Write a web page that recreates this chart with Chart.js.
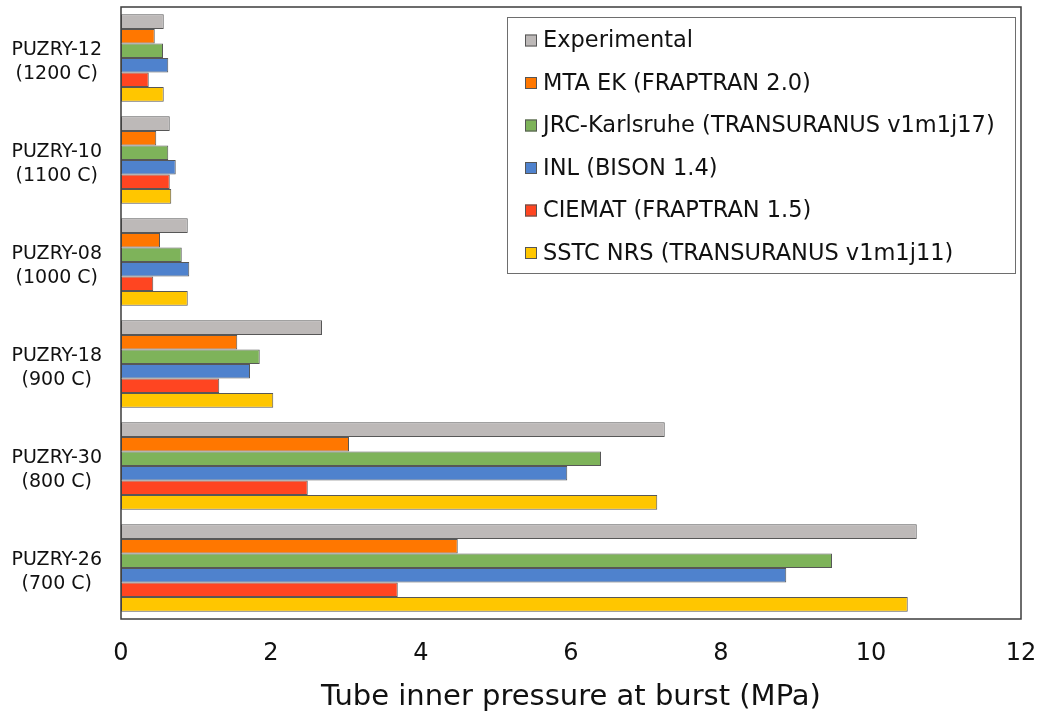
<!DOCTYPE html>
<html>
<head>
<meta charset="utf-8">
<script src="https://cdn.jsdelivr.net/npm/chart.js@4/dist/chart.umd.min.js"></script>
<style>
  html, body { margin: 0; padding: 0; background: #fff; }
  #wrap { width: 1040px; height: 715px; }
</style>
</head>
<body>
<div id="wrap"><canvas id="burstChart"></canvas></div>
<script>
// test cases, top to bottom
const rodLabels = [
    ['PUZRY-12', '(1200 C)'],
    ['PUZRY-10', '(1100 C)'],
    ['PUZRY-08', '(1000 C)'],
    ['PUZRY-18', '(900 C)'],
    ['PUZRY-30', '(800 C)'],
    ['PUZRY-26', '(700 C)']
];

// burst pressure, MPa
const experimental = [0.57, 0.65, 0.89, 2.68, 7.25, 10.61];
const mtaEk        = [0.45, 0.47, 0.52, 1.55, 3.04, 4.49];
const jrcKarlsruhe = [0.56, 0.63, 0.81, 1.85, 6.40, 9.48];
const inlBison     = [0.63, 0.73, 0.91, 1.72, 5.95, 8.87];
const ciemat       = [0.37, 0.65, 0.43, 1.31, 2.49, 3.69];
const sstcNrs      = [0.57, 0.67, 0.89, 2.03, 7.15, 10.49];

const xTicks = [0, 2, 4, 6, 8, 10, 12];

const seriesNames = [
    'Experimental',
    'MTA EK (FRAPTRAN 2.0)',
    'JRC-Karlsruhe (TRANSURANUS v1m1j17)',
    'INL (BISON 1.4)',
    'CIEMAT (FRAPTRAN 1.5)',
    'SSTC NRS (TRANSURANUS v1m1j11)'
];
const seriesColors = ['#bdb9b8', '#ff7700', '#7eb35a', '#4f82cd', '#ff4521', '#ffc600'];
const seriesValues = [experimental, mtaEk, jrcKarlsruhe, inlBison, ciemat, sstcNrs];

const FONT = '"DejaVu Sans", Verdana, sans-serif';

// frame round the plot area
const plotFrame = {
    id: 'plotFrame',
    afterDraw(chart) {
        const { ctx, chartArea: a } = chart;
        ctx.save();
        ctx.strokeStyle = '#3c3c3c';
        ctx.lineWidth = 1.5;
        ctx.strokeRect(a.left, a.top, a.right - a.left, a.bottom - a.top);
        ctx.restore();
    }
};

// legend box drawn inside the plot, top right
const insideLegend = {
    id: 'insideLegend',
    afterDraw(chart) {
        const ctx = chart.ctx;
        const x = 507, y = 17, w = 508, h = 256;
        const rowH = 42.5, firstRow = 40.5;
        ctx.save();
        ctx.fillStyle = '#fff';
        ctx.fillRect(x, y, w, h);
        ctx.strokeStyle = '#6e6e6e';
        ctx.lineWidth = 1;
        ctx.strokeRect(x + 0.5, y + 0.5, w, h);
        ctx.font = '22.5px ' + FONT;
        ctx.textBaseline = 'middle';
        chart.data.datasets.forEach((ds, i) => {
            const cy = firstRow + i * rowH;
            ctx.fillStyle = ds.backgroundColor;
            ctx.fillRect(x + 18, cy - 6, 12, 12);
            ctx.strokeStyle = '#555';
            ctx.strokeRect(x + 18.5, cy - 5.5, 11, 11);
            ctx.fillStyle = '#111';
            ctx.fillText(ds.label, x + 36, cy + 1);
        });
        ctx.restore();
    }
};

new Chart(document.getElementById('burstChart').getContext('2d'), {
    type: 'bar',
    data: {
        labels: rodLabels,
        datasets: seriesNames.map((name, i) => ({
            label: name,
            data: seriesValues[i],
            backgroundColor: seriesColors[i],
            borderColor: 'rgba(45, 45, 45, 0.8)',
            borderWidth: 1,
            borderSkipped: false,
            barPercentage: 1,
            categoryPercentage: 0.856
        }))
    },
    options: {
        indexAxis: 'y',
        responsive: true,
        maintainAspectRatio: false,
        animation: false,
        layout: { padding: { top: 7, right: 19, left: 0, bottom: 0 } },
        plugins: {
            legend: { display: false },
            tooltip: { enabled: false }
        },
        scales: {
            x: {
                min: 0,
                max: 12,
                afterBuildTicks: axis => { axis.ticks = xTicks.map(v => ({ value: v })); },
                afterFit: axis => {
                    axis.height = 96;
                    axis.paddingLeft = 0;
                    axis.paddingRight = 0;
                },
                grid: { display: false, drawTicks: false },
                border: { display: false },
                ticks: {
                    color: '#111',
                    font: { family: FONT, size: 24 },
                    padding: 20,
                    maxRotation: 0
                },
                title: {
                    display: true,
                    text: 'Tube inner pressure at burst (MPa)',
                    color: '#111',
                    font: { family: FONT, size: 29 },
                    padding: { top: 4, bottom: 0 }
                }
            },
            y: {
                afterFit: axis => {
                    axis.width = 121;
                    axis.paddingTop = 0;
                    axis.paddingBottom = 0;
                },
                grid: { display: false, drawTicks: false },
                border: { display: false },
                ticks: {
                    color: '#111',
                    font: { family: FONT, size: 19, lineHeight: 1.22 },
                    padding: 19,
                    labelOffset: 4,
                    align: 'center',
                    crossAlign: 'center'
                }
            }
        }
    },
    plugins: [plotFrame, insideLegend]
});
</script>
</body>
</html>
